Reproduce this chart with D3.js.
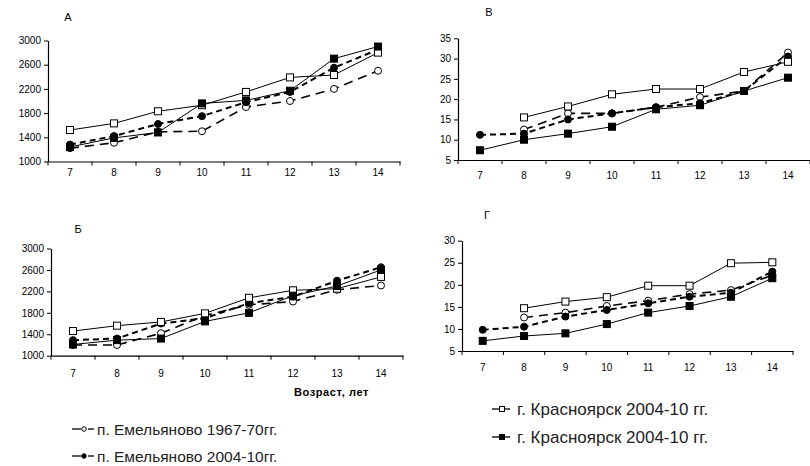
<!DOCTYPE html>
<html><head><meta charset="utf-8">
<script src="https://cdn.jsdelivr.net/npm/d3@7"></script>
<style>
body{margin:0;background:#fff;}
svg{display:block;font-family:Arial,"Liberation Sans",sans-serif;}
</style></head>
<body><svg id="c" width="810" height="466"></svg>
<script>
// ---------- data ----------
const ages = [7, 8, 9, 10, 11, 12, 13, 14];
const seriesNames = ["п. Емельяново 1967-70гг.", "п. Емельяново 2004-10гг.", "г. Красноярск 2004-10 гг.", "г. Красноярск 2004-10 гг."];
const panelLabels = ["А", "В", "Б", "Г"];
const ticksMass = [1000, 1400, 1800, 2200, 2600, 3000];
const ticksB = [5, 10, 15, 20, 25, 30, 35];
const ticksG = [5, 10, 15, 20, 25, 30];
const xTitle = "Возраст, лет";

// panel А
const aOpenCircle  = [1220, 1310, 1490, 1500, 1900, 2000, 2200, 2500];
const aFillCircle  = [1280, 1420, 1620, 1750, 1980, 2150, 2550, 2850];
const aOpenSquare  = [1520, 1630, 1830, 1930, 2150, 2390, 2430, 2800];
const aFillSquare  = [1240, 1390, 1480, 1960, 2010, 2170, 2700, 2900];
// panel В
const bOpenCircle  = [null, 12.5, 16.5, 16.5, 18.0, 20.5, 22.0, 31.5];
const bFillCircle  = [11.2, 11.5, 15.0, 16.5, 18.0, 19.0, 22.0, 30.5];
const bOpenSquare  = [null, 15.5, 18.2, 21.2, 22.5, 22.5, 26.7, 29.2];
const bFillSquare  = [7.4, 10.0, 11.5, 13.2, 17.5, 18.5, 22.0, 25.3];
// panel Б
const vOpenCircle  = [1200, 1200, 1420, 1750, 1950, 2010, 2230, 2310];
const vFillCircle  = [1290, 1320, 1600, 1700, 1980, 2100, 2400, 2650];
const vOpenSquare  = [1460, 1560, 1630, 1790, 2080, 2220, 2250, 2470];
const vFillSquare  = [1210, 1290, 1320, 1640, 1800, 2120, 2300, 2600];
// panel Г
const gOpenCircle  = [null, 12.6, 13.7, 15.2, 16.4, 17.9, 18.8, 22.2];
const gFillCircle  = [9.8, 10.5, 12.8, 14.3, 15.8, 17.3, 18.2, 23.0];
const gOpenSquare  = [null, 14.7, 16.2, 17.2, 19.8, 19.8, 24.9, 25.1];
const gFillSquare  = [7.3, 8.4, 9.0, 11.1, 13.7, 15.2, 17.3, 21.5];

// ---------- layout ----------
const panels = [
  {label: panelLabels[0], lx: 68, ly: 21, left: 48, right: 400, top: 40.5, bottom: 161.5, domain: [1000, 3000], ticks: ticksMass, xlab: 14,
   series: [aOpenCircle, aFillCircle, aOpenSquare, aFillSquare]},
  {label: panelLabels[1], lx: 489, ly: 16, left: 458, right: 810, top: 38.3, bottom: 160, domain: [5, 35], ticks: ticksB, xlab: 19,
   series: [bOpenCircle, bFillCircle, bOpenSquare, bFillSquare]},
  {label: panelLabels[2], lx: 78, ly: 233, left: 51, right: 403, top: 248.5, bottom: 355.7, domain: [1000, 3000], ticks: ticksMass, xlab: 21,
   series: [vOpenCircle, vFillCircle, vOpenSquare, vFillSquare]},
  {label: panelLabels[3], lx: 487, ly: 219, left: 462, right: 793, top: 240.7, bottom: 351, domain: [5, 30], ticks: ticksG, xlab: 20,
   series: [gOpenCircle, gFillCircle, gOpenSquare, gFillSquare]}
];
const styles = [
  {marker: "circle", fill: "#fff", dash: "9,6", width: 1.6},
  {marker: "circle", fill: "#000", dash: "6,4", width: 2},
  {marker: "square", fill: "#fff", dash: null, width: 1},
  {marker: "square", fill: "#000", dash: null, width: 1}
];

const svg = d3.select("#c");

function drawMarker(g, type, fill, x, y, s) {
  if (type === "circle") {
    g.append("circle").attr("cx", x).attr("cy", y).attr("r", s / 2)
      .attr("fill", fill).attr("stroke", "#000").attr("stroke-width", 1);
  } else {
    g.append("rect").attr("x", x - s / 2).attr("y", y - s / 2).attr("width", s).attr("height", s)
      .attr("fill", fill).attr("stroke", "#000").attr("stroke-width", 1);
  }
}

panels.forEach(p => {
  const g = svg.append("g");
  const x = d3.scaleBand().domain(ages).range([p.left, p.right]);
  const y = d3.scaleLinear().domain(p.domain).range([p.bottom, p.top]);

  // y axis
  const ya = g.append("g").attr("transform", `translate(${p.left},0)`)
    .call(d3.axisLeft(y).tickValues(p.ticks).tickFormat(d3.format("d")).tickSize(4).tickSizeOuter(0).tickPadding(3));
  ya.select(".domain").attr("stroke", "#000").attr("stroke-width", 1.2);
  ya.selectAll(".tick line").attr("stroke", "#000");
  ya.selectAll("text").attr("font-size", 10).attr("font-family", "Arial, Liberation Sans, sans-serif").attr("fill", "#000");

  // x axis (labels at band centres, ticks at band boundaries)
  const xa = g.append("g").attr("transform", `translate(0,${p.bottom})`)
    .call(d3.axisBottom(x).tickSize(0).tickSizeOuter(0).tickPadding(p.xlab - 7));
  xa.select(".domain").attr("stroke", "#000").attr("stroke-width", 1.2);
  xa.selectAll("text").attr("font-size", 10).attr("font-family", "Arial, Liberation Sans, sans-serif").attr("fill", "#000");
  const bounds = ages.map(a => x(a)).concat([x(ages[ages.length - 1]) + x.bandwidth()]);
  g.selectAll(".xt").data(bounds).join("line")
    .attr("x1", d => d).attr("x2", d => d).attr("y1", p.bottom).attr("y2", p.bottom + 4)
    .attr("stroke", "#000").attr("stroke-width", 1);

  // panel letter
  g.append("text").attr("x", p.lx).attr("y", p.ly).attr("font-size", 11).attr("text-anchor", "middle").text(p.label);

  // series
  p.series.forEach((vals, i) => {
    const st = styles[i];
    const pts = ages.map((a, j) => ({a, v: vals[j]})).filter(d => d.v != null);
    const line = d3.line().x(d => x(d.a) + x.bandwidth() / 2).y(d => y(d.v));
    g.append("path").datum(pts).attr("d", line).attr("fill", "none")
      .attr("stroke", "#000").attr("stroke-width", st.width)
      .attr("stroke-dasharray", st.dash);
  });
  p.series.forEach((vals, i) => {
    const st = styles[i];
    const mg = g.append("g");
    ages.forEach((a, j) => {
      if (vals[j] == null) return;
      drawMarker(mg, st.marker, st.fill, x(a) + x.bandwidth() / 2, y(vals[j]), 7);
    });
  });
});

// x axis title
svg.append("text").attr("x", 294).attr("y", 396)
  .attr("font-size", 11).attr("font-weight", "bold").attr("letter-spacing", 0.6).text(xTitle);

// legends
const legendItems = [
  {i: 0, x: 72, y: 429, fs: 15.5}, {i: 1, x: 72, y: 456, fs: 15.5},
  {i: 2, x: 492, y: 409, fs: 17}, {i: 3, x: 492, y: 437, fs: 17}
];
legendItems.forEach(li => {
  const st = styles[li.i];
  const g = svg.append("g");
  const x0 = li.x, x1 = li.x + 22;
  if (li.i < 2) {
    g.append("line").attr("x1", x0).attr("x2", x0 + 9).attr("y1", li.y).attr("y2", li.y).attr("stroke", "#000").attr("stroke-width", 1.3);
    g.append("line").attr("x1", x0 + 16).attr("x2", x1).attr("y1", li.y).attr("y2", li.y).attr("stroke", "#000").attr("stroke-width", 1.3);
    drawMarker(g, st.marker, st.fill, x0 + 12, li.y, 4.5);
  } else {
    g.append("line").attr("x1", x0).attr("x2", x0 + 18).attr("y1", li.y).attr("y2", li.y).attr("stroke", "#000").attr("stroke-width", 1.3);
    drawMarker(g, st.marker, st.fill, x0 + 10, li.y, 5);
  }
  g.append("text").attr("x", x1 + 3).attr("y", li.y + 5.5).attr("font-size", li.fs).attr("fill", "#222").text(seriesNames[li.i]);
});
</script></body></html>
